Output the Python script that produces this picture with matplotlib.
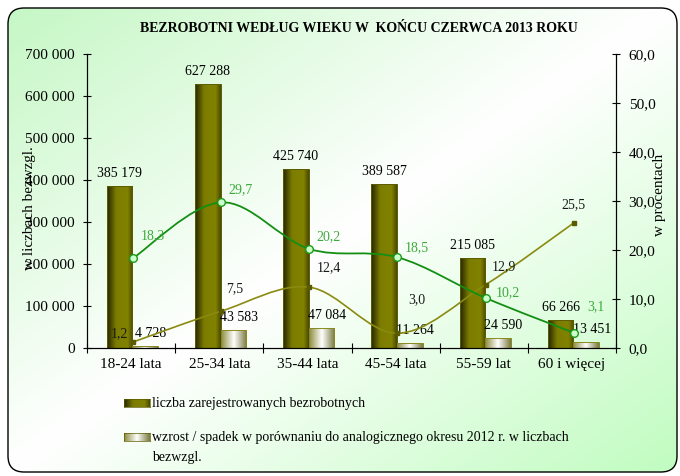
import numpy as np
import matplotlib
matplotlib.use('Agg')
import matplotlib.pyplot as plt
from matplotlib.colors import LinearSegmentedColormap
from matplotlib.patches import FancyBboxPatch, PathPatch
from matplotlib.path import Path

# dane
categories = ['18-24 lata', '25-34 lata', '35-44 lata', '45-54 lata', '55-59 lat', '60 i więcej']
registered = [385179, 627288, 425740, 389587, 215085, 66266]
change_abs = [4728, 43583, 47084, 11264, 24590, 13451]
share_pct = [18.3, 29.7, 20.2, 18.5, 10.2, 3.1]
change_pct = [1.2, 7.5, 12.4, 3.0, 12.9, 25.5]

# przesuniecia etykiet (w punktach)
share_offsets = [(14, 16), (14, 9), (14, 9), (14, 7), (16, 4), (16, 19)]
change_offsets = [(-10, 6), (10, 16), (14, 14), (14, 24), (13, 13), (0, 13)]

plt.rcParams['font.family'] = ['Liberation Serif', 'DejaVu Serif']


def fmt_int(v):
    return f'{v:,}'.replace(',', ' ')


def fmt_pct(v):
    return f'{v:.1f}'.replace('.', ',')


def smooth_path(xs, ys):
    # gladka linia jak w Excelu (Catmull-Rom -> Bezier)
    pts = np.column_stack([xs, ys]).astype(float)
    ext = np.vstack([pts[0], pts, pts[-1]])
    verts = [pts[0]]
    codes = [Path.MOVETO]
    for i in range(len(pts) - 1):
        p0, p1, p2, p3 = ext[i], ext[i + 1], ext[i + 2], ext[i + 3]
        verts += [p1 + (p2 - p0) / 6, p2 - (p3 - p1) / 6, p2]
        codes += [Path.CURVE4] * 3
    return Path(verts, codes)


fig = plt.figure(figsize=(6.8, 4.76), dpi=100)

# tlo z ramka i gradientem
bg = fig.add_axes([0, 0, 1, 1], zorder=-10)
bg.set_xlim(0, 1)
bg.set_ylim(0, 1)
bg.axis('off')
frame = FancyBboxPatch((0.08, 0.04), 6.69, 4.64, boxstyle='round,pad=0,rounding_size=0.16',
                       transform=fig.dpi_scale_trans, facecolor='none', edgecolor='black', lw=1.0, zorder=3)
bg.add_patch(frame)
cmap_bg = LinearSegmentedColormap.from_list('bg', ['#c4f7c4', '#ffffff', '#c0fcc0'])
gx, gy = np.meshgrid(np.linspace(0, 1, 200), np.linspace(0, 1, 200))
img = bg.imshow((gx + gy) / 2, cmap=cmap_bg, extent=[0, 1, 0, 1], origin='upper', aspect='auto')
img.set_clip_path(frame)

ax = fig.add_axes([0.128, 0.269, 0.778, 0.618])
ax.patch.set_alpha(0)
x = np.arange(len(categories))
bw = 0.29
dark = ax.bar(x - 0.13, registered, bw, color='#808000', edgecolor='#5c5c00', lw=0.7, zorder=2)
light = ax.bar(x + 0.16, change_abs, bw, color='#d8d8c0', edgecolor='#8a8a20', lw=0.7, zorder=2)

cm_dark = LinearSegmentedColormap.from_list('d', [(0, '#262600'), (0.35, '#7c7c00'), (0.8, '#828200'), (1, '#4a4a00')])
cm_light = LinearSegmentedColormap.from_list('l', [(0, '#8c8c40'), (0.5, '#ffffff'), (1, '#7a7a40')])
row = np.linspace(0, 1, 64).reshape(1, -1)


def shade(bars, cmap):
    for b in bars:
        x0, y0 = b.get_x(), b.get_y()
        im = ax.imshow(row, cmap=cmap, extent=[x0, x0 + b.get_width(), y0, y0 + b.get_height()],
                       aspect='auto', zorder=2.1, interpolation='bilinear')
        im.set_clip_path(b)
        b.set_facecolor('none')
        b.set_zorder(2.2)


shade(dark, cm_dark)
shade(light, cm_light)

ax.set_xlim(-0.5, 5.5)
ax.set_ylim(0, 700000)
ax.set_yticks(np.arange(0, 700001, 100000))
ax.set_yticklabels([fmt_int(v) for v in range(0, 700001, 100000)])
ax.set_xticks(np.arange(-0.5, 6, 1))
ax.set_xticklabels([])
ax.set_xticks(x, minor=True)
ax.set_xticklabels(categories, minor=True)
ax.tick_params(axis='x', which='minor', length=0, pad=7, labelsize=11)
ax.tick_params(axis='x', which='major', direction='inout', length=7)
ax.tick_params(axis='y', direction='inout', length=6, pad=6, labelsize=11)
ax.spines['top'].set_visible(False)

for b, v in zip(dark, registered):
    ax.annotate(fmt_int(v), (b.get_x() + b.get_width() / 2, v), xytext=(0, 9),
                textcoords='offset points', ha='center', va='center', fontsize=10, zorder=5)
for b, v in zip(light, change_abs):
    ax.annotate(fmt_int(v), (b.get_x() + b.get_width() / 2, v), xytext=(4, 9),
                textcoords='offset points', ha='center', va='center', fontsize=10, zorder=5)

ax2 = ax.twinx()
ax2.set_ylim(0, 60)
ax2.set_yticks(np.arange(0, 61, 10))
ax2.set_yticklabels([fmt_pct(v) for v in range(0, 61, 10)])
ax2.tick_params(axis='y', direction='inout', length=6, pad=6, labelsize=11)
ax2.spines['top'].set_visible(False)

lx = x + 0.02
ax2.add_patch(PathPatch(smooth_path(lx, change_pct), facecolor='none', edgecolor='#8a8a10', lw=1.2, zorder=3))
ax2.plot(lx, change_pct, linestyle='none', marker='s', markersize=2.5, color='#5a5a00', zorder=4)
ax2.add_patch(PathPatch(smooth_path(lx, share_pct), facecolor='none', edgecolor='#138f13', lw=1.3, zorder=3))
ax2.plot(lx, share_pct, linestyle='none', marker='o', markersize=5.5, markerfacecolor='#ccffcc',
         markeredgecolor='#1a9a1a', markeredgewidth=1.0, zorder=4)

for xi, v, off in zip(lx, change_pct, change_offsets):
    ax2.annotate(fmt_pct(v), (xi, v), xytext=off, textcoords='offset points',
                 ha='center', va='center', fontsize=10, color='#1a1a1a')
for xi, v, off in zip(lx, share_pct, share_offsets):
    ax2.annotate(fmt_pct(v), (xi, v), xytext=off, textcoords='offset points',
                 ha='center', va='center', fontsize=10, color='#3caa3c')

fig.text(359 / 680, 1 - 29 / 476, 'BEZROBOTNI WEDŁUG WIEKU W  KOŃCU CZERWCA 2013 ROKU',
         ha='center', va='center', fontsize=10, fontweight='bold')
fig.text(30 / 680, 1 - 208 / 476, 'w liczbach bezwzgl.', rotation=90, ha='center', va='center', fontsize=11)
fig.text(660 / 680, 1 - 195 / 476, 'w procentach', rotation=90, ha='center', va='center', fontsize=11)

# legenda
for ypx, cmap in [(403, cm_dark), (437, cm_light)]:
    sw = fig.add_axes([124 / 680, 1 - (ypx + 4) / 476, 26 / 680, 8 / 476])
    sw.imshow(row, cmap=cmap, aspect='auto', interpolation='bilinear')
    sw.set_xticks([])
    sw.set_yticks([])
    for s in sw.spines.values():
        s.set_linewidth(0.5)
        s.set_color('#5c5c00')
fig.text(152 / 680, 1 - 403 / 476, 'liczba zarejestrowanych bezrobotnych', va='center', fontsize=10)
fig.text(152 / 680, 1 - 437 / 476,
         'wzrost / spadek w porównaniu do analogicznego okresu 2012 r. w liczbach', va='center', fontsize=10)
fig.text(152 / 680, 1 - 457 / 476, 'bezwzgl.', va='center', fontsize=10)

fig.savefig('out.png', dpi=100)
